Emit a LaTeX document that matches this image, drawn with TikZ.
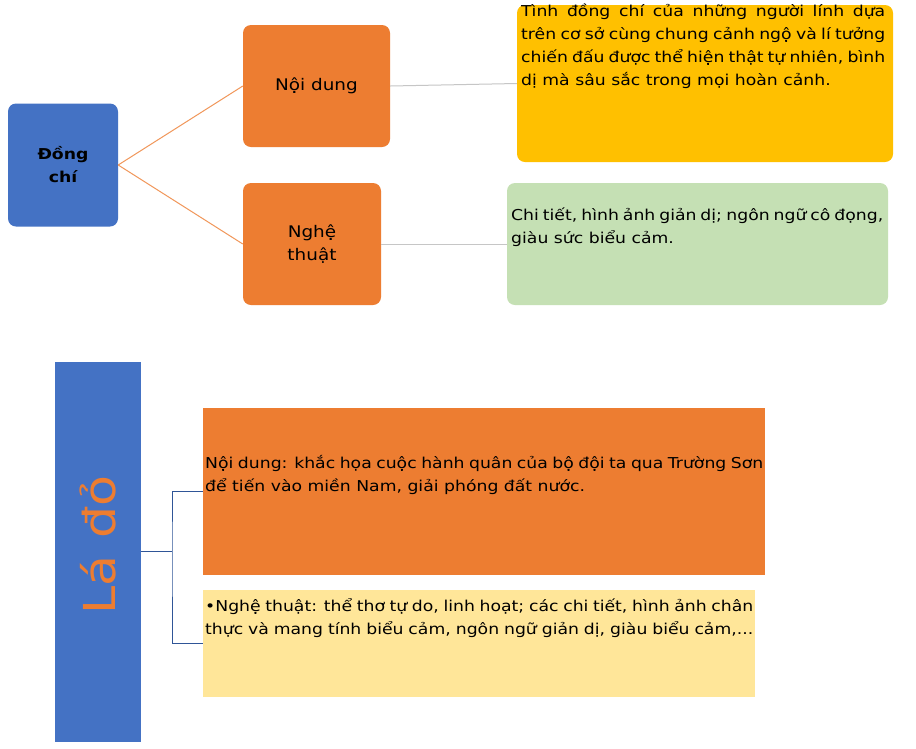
\documentclass[tikz,border=0pt]{standalone}
\usepackage{fontspec}
\setmainfont{DejaVu Sans}[FakeStretch=1.15]
\begin{document}
\begin{tikzpicture}[x=1pt,y=-1pt,
  rbox/.style={rounded corners=8pt,inner sep=0pt},
  txt/.style={font=\fontsize{15}{23}\selectfont,align=justify,inner sep=0pt,anchor=north west},
  conn/.style={draw=#1,line width=1pt}]
\useasboundingbox (0,0) rectangle (916,748);
\fill[white] (0,0) rectangle (916,748);
\definecolor{blu}{HTML}{4472C4}\definecolor{org}{HTML}{ED7D31}
\definecolor{gld}{HTML}{FFC000}\definecolor{grn}{HTML}{C5E0B4}
\definecolor{lyl}{HTML}{FFE699}\definecolor{dbl}{HTML}{2F5597}
% top
\node[rbox,fill=blu,minimum width=110,minimum height=123,font=\bfseries\fontsize{15}{23}\selectfont,align=center] (dc) at (63,165) {Đồng\\chí};
\node[rbox,fill=org,minimum width=147,minimum height=122,font=\fontsize{16}{23}\selectfont] (nd) at (316.5,86) {Nội dung};
\node[rbox,fill=org,minimum width=138,minimum height=122,font=\fontsize{16}{23}\selectfont,align=center] (nt) at (312,244) {Nghệ\\thuật};
\node[rbox,fill=gld,minimum width=376,minimum height=157] (yb) at (705,83.5) {};
\node[rbox,fill=grn,minimum width=381,minimum height=122] (gb) at (697.5,244) {};
\node[txt,text width=364] (yt) at (521,4) {Tình đồng chí của những người lính dựa trên cơ sở cùng chung cảnh ngộ và lí tưởng chiến đấu được thể hiện thật tự nhiên, bình dị mà sâu sắc trong mọi hoàn cảnh.};
\node[txt,text width=372] (gt) at (511,208) {Chi tiết, hình ảnh giản dị; ngôn ngữ cô đọng, giàu sức biểu cảm.};
\draw[conn=org!80] (dc.east) -- (nd.west);
\draw[conn=org!80] (dc.east) -- (nt.west);
\draw[conn=gray!45] (nd.east) -- (yb.west);
\draw[conn=gray!45] (nt.east) -- (gb.west);
% bottom
\node[fill=blu,minimum width=86,minimum height=380,inner sep=0pt] (ld) at (98,552) {};
\node[rotate=90,text=org,font=\fontsize{44}{50}\selectfont] (ldt) at (98,545) {Lá đỏ};
\node[fill=org,minimum width=562,minimum height=167,inner sep=0pt] (ob) at (484,491.5) {};
\node[fill=lyl,minimum width=552,minimum height=107,inner sep=0pt] (lb) at (479,643.5) {};
\node[txt,text width=558] (ot) at (205,455) {Nội dung: khắc họa cuộc hành quân của bộ đội ta qua Trường Sơn để tiến vào miền Nam, giải phóng đất nước.};
\node[txt,text width=548] (lt) at (205,598) {•Nghệ thuật: thể thơ tự do, linh hoạt; các chi tiết, hình ảnh chân thực và mang tính biểu cảm, ngôn ngữ giản dị, giàu biểu cảm,...};
\coordinate (br) at (172,551);
\draw[conn=dbl] (ld.east |- br) -- (br);
\draw[conn=dbl] (ob.west) -| (br) |- (lb.west);
\end{tikzpicture}
\end{document}
